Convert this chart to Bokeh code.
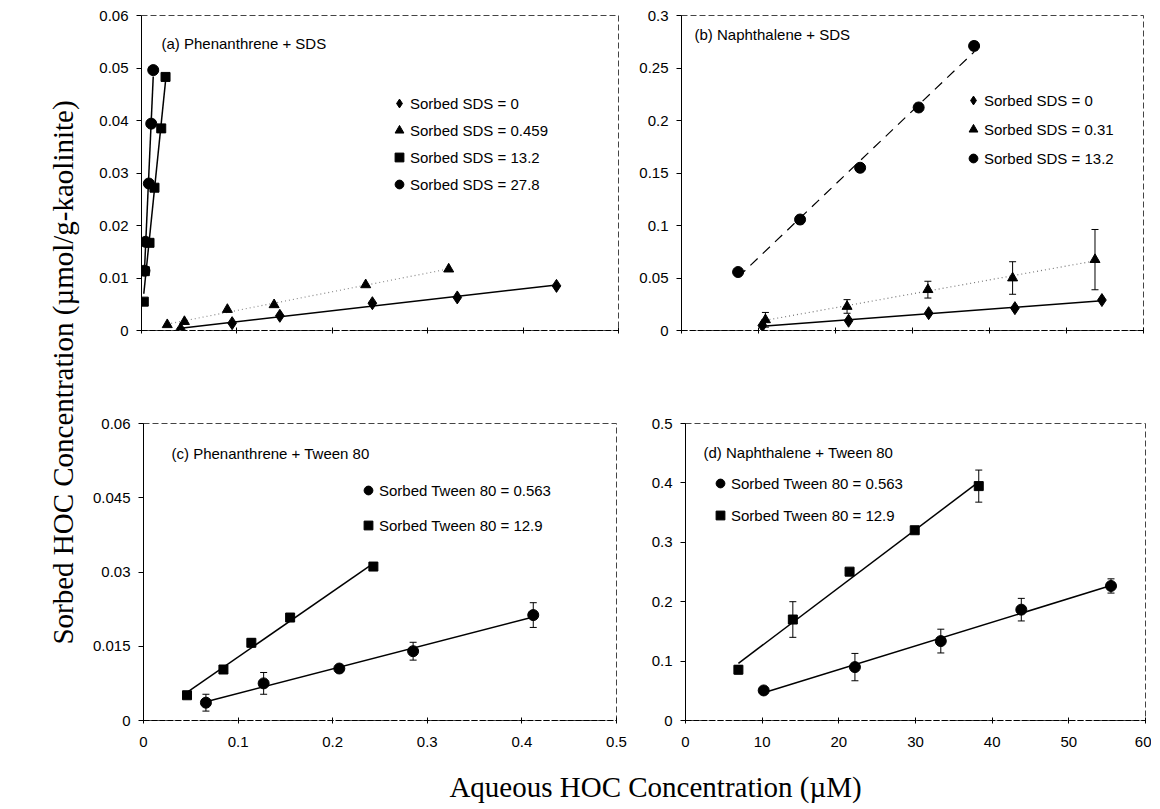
import numpy as np
from bokeh.plotting import figure
from bokeh.models import (Range1d, FixedTicker, Legend, LegendItem, Label,
                          Whisker, TeeHead, ColumnDataSource)
from bokeh.layouts import row, column
from bokeh.embed import file_html
from bokeh.resources import INLINE

# ---------------- data ----------------
# (a) Phenanthrene + SDS
a_sds0_x = [0.041, 0.095, 0.145, 0.242, 0.331, 0.435]
a_sds0_y = [0.0002, 0.0014, 0.0028, 0.0052, 0.0063, 0.0085]
a_sds0459_x = [0.027, 0.045, 0.090, 0.139, 0.235, 0.322]
a_sds0459_y = [0.0011, 0.0017, 0.0040, 0.0049, 0.0087, 0.0117]
a_sds132_x = [0.0024, 0.0035, 0.0084, 0.0136, 0.0207, 0.0252]
a_sds132_y = [0.0055, 0.0113, 0.0167, 0.0272, 0.0385, 0.0483]
a_sds278_x = [0.0031, 0.0042, 0.0077, 0.0102, 0.0123]
a_sds278_y = [0.0114, 0.0169, 0.0280, 0.0394, 0.0496]

# (b) Naphthalene + SDS
b_sds0_x = [10.5, 21.7, 32.1, 43.3, 54.6]
b_sds0_y = [0.0048, 0.0093, 0.0165, 0.0213, 0.029]
b_sds031_x = [10.9, 21.5, 32.0, 43.0, 53.7]
b_sds031_y = [0.0102, 0.0229, 0.0389, 0.050, 0.0675]
b_sds031_err = [0.007, 0.0065, 0.008, 0.0155, 0.0287]
b_sds132_x = [7.35, 15.4, 23.2, 30.8, 38.0]
b_sds132_y = [0.0557, 0.1057, 0.155, 0.2124, 0.271]
b_sds132_err = [0.0, 0.004, 0.0, 0.004, 0.004]

# (c) Phenanthrene + Tween 80
c_tw0563_x = [0.066, 0.127, 0.207, 0.285, 0.412]
c_tw0563_y = [0.0036, 0.0075, 0.0105, 0.014, 0.0213]
c_tw0563_err = [0.0017, 0.0022, 0.0005, 0.0018, 0.0025]
c_tw129_x = [0.046, 0.0845, 0.114, 0.155, 0.243]
c_tw129_y = [0.0051, 0.0103, 0.0157, 0.0208, 0.0311]
c_tw129_err = [0.0, 0.0008, 0.0008, 0.0005, 0.0]

# (d) Naphthalene + Tween 80
d_tw0563_x = [10.2, 22.1, 33.3, 43.8, 55.5]
d_tw0563_y = [0.0506, 0.0899, 0.1337, 0.1866, 0.2265]
d_tw0563_err = [0.0, 0.023, 0.02, 0.019, 0.012]
d_tw129_x = [6.9, 14.0, 21.4, 29.9, 38.25]
d_tw129_y = [0.0855, 0.170, 0.2506, 0.3203, 0.3946]
d_tw129_err = [0.007, 0.03, 0.005, 0.0, 0.027]

# tick values and labels
ticks_x_phen = [0, 0.1, 0.2, 0.3, 0.4, 0.5]
labels_x_phen = ["0", "0.1", "0.2", "0.3", "0.4", "0.5"]
ticks_x_naph = [0, 10, 20, 30, 40, 50, 60]
labels_x_naph = ["0", "10", "20", "30", "40", "50", "60"]
ticks_y_a = [0, 0.01, 0.02, 0.03, 0.04, 0.05, 0.06]
labels_y_a = ["0", "0.01", "0.02", "0.03", "0.04", "0.05", "0.06"]
ticks_y_b = [0, 0.05, 0.1, 0.15, 0.2, 0.25, 0.3]
labels_y_b = ["0", "0.05", "0.1", "0.15", "0.2", "0.25", "0.3"]
ticks_y_c = [0, 0.015, 0.03, 0.045, 0.06]
labels_y_c = ["0", "0.015", "0.03", "0.045", "0.06"]
ticks_y_d = [0, 0.1, 0.2, 0.3, 0.4, 0.5]
labels_y_d = ["0", "0.1", "0.2", "0.3", "0.4", "0.5"]

SANS = "Liberation Sans"
SERIF = "Liberation Serif"
FS = "15px"


def make_panel(title, title_xy, xr, yr, xticks, xlabels, yticks, ylabels,
               fw, fh, borders, series, legend_loc, legend_spacing):
    bl, br, bt, bb = borders
    p = figure(frame_width=fw, frame_height=fh,
               x_range=Range1d(*xr), y_range=Range1d(*yr),
               toolbar_location=None, output_backend="svg",
               min_border_left=bl, min_border_right=br,
               min_border_top=bt, min_border_bottom=bb)
    p.grid.visible = False
    p.outline_line_color = "#444444"
    p.outline_line_dash = "6 3"
    p.outline_line_width = 1
    p.background_fill_color = "white"
    p.border_fill_color = "white"

    p.xaxis.ticker = FixedTicker(ticks=xticks)
    p.xaxis.major_label_overrides = {t: l for t, l in zip(xticks, xlabels)}
    p.yaxis.ticker = FixedTicker(ticks=yticks)
    p.yaxis.major_label_overrides = {t: l for t, l in zip(yticks, ylabels)}
    for ax in (p.xaxis[0], p.yaxis[0]):
        ax.minor_tick_line_color = None
        ax.major_label_text_font = SANS
        ax.major_label_text_font_size = FS
        ax.major_label_text_color = "black"
        ax.axis_line_color = "black"
        ax.major_tick_line_color = "black"
    p.yaxis.major_tick_out = 5
    p.yaxis.major_tick_in = 0
    p.yaxis.major_label_standoff = 8
    p.xaxis.major_tick_out = 3
    p.xaxis.major_tick_in = 3
    p.xaxis.major_label_standoff = 13
    p.xaxis.axis_line_dash = "6 2"

    items = []
    for s in series:
        x = np.array(s["x"], dtype=float)
        y = np.array(s["y"], dtype=float)
        if s.get("line_dash") is not None:
            k, b = np.polyfit(x, y, 1)
            xs = np.array([x.min(), x.max()])
            p.line(xs, k * xs + b, line_color=s.get("line_color", "black"),
                   line_width=s.get("line_width", 1.5),
                   line_dash=s["line_dash"], line_alpha=s.get("line_alpha", 1.0))
        err = s.get("err")
        if err is not None:
            e = np.array(err, dtype=float)
            m = e > 0
            src = ColumnDataSource(dict(base=x[m], upper=(y + e)[m], lower=(y - e)[m]))
            w = Whisker(source=src, base="base", upper="upper", lower="lower",
                        dimension="height", line_color="black", line_width=1,
                        upper_head=TeeHead(size=7, line_color="black", line_width=1),
                        lower_head=TeeHead(size=7, line_color="black", line_width=1))
            p.add_layout(w)
        r = p.scatter(x, y, marker=s["marker"], size=s["size"],
                      fill_color="black", line_color="black")
        items.append(LegendItem(label=s["label"], renderers=[r]))

    leg = Legend(items=items, location=legend_loc, orientation="vertical",
                 glyph_width=22, glyph_height=22, label_height=22,
                 label_standoff=0, spacing=legend_spacing, padding=0, margin=0,
                 border_line_color=None, background_fill_alpha=0,
                 label_text_font=SANS, label_text_font_size=FS,
                 label_text_color="black")
    p.add_layout(leg, "center")

    p.add_layout(Label(x=title_xy[0], y=title_xy[1], x_units="screen",
                       y_units="screen", text=title, text_font=SANS,
                       text_font_size=FS, text_align="left",
                       text_baseline="middle", text_color="black"))
    return p


pa = make_panel(
    "(a) Phenanthrene + SDS", (20, 287), (0, 0.5), (0, 0.06),
    ticks_x_phen, [""] * len(ticks_x_phen), ticks_y_a, labels_y_a,
    477, 315, (53, 12, 15, 60),
    [
        dict(label="Sorbed SDS = 0", x=a_sds0_x, y=a_sds0_y, marker="diamond",
             size=13, line_dash="solid"),
        dict(label="Sorbed SDS = 0.459", x=a_sds0459_x, y=a_sds0459_y, marker="triangle",
             size=10, line_dash="1 3", line_color="#888888", line_width=1.2),
        dict(label="Sorbed SDS = 13.2", x=a_sds132_x, y=a_sds132_y, marker="square",
             size=9, line_dash="solid"),
        dict(label="Sorbed SDS = 27.8", x=a_sds278_x, y=a_sds278_y, marker="circle",
             size=11, line_dash="solid"),
    ],
    (247, 135), 5)

pb = make_panel(
    "(b) Naphthalene + SDS", (13, 296), (0, 60), (0, 0.3),
    ticks_x_naph, [""] * len(ticks_x_naph), ticks_y_b, labels_y_b,
    462, 315, (51, 8, 15, 60),
    [
        dict(label="Sorbed SDS = 0", x=b_sds0_x, y=b_sds0_y, marker="diamond",
             size=13, line_dash="solid"),
        dict(label="Sorbed SDS = 0.31", x=b_sds031_x, y=b_sds031_y, err=b_sds031_err,
             marker="triangle", size=10, line_dash="1 3", line_color="#777777",
             line_width=1.2),
        dict(label="Sorbed SDS = 13.2", x=b_sds132_x, y=b_sds132_y, err=b_sds132_err,
             marker="circle", size=11, line_dash="10 7", line_width=1.2),
    ],
    (281, 161), 7)

pc = make_panel(
    "(c) Phenanthrene + Tween 80", (28, 267), (0, 0.5), (0, 0.06),
    ticks_x_phen, labels_x_phen, ticks_y_c, labels_y_c,
    473, 297, (55, 14, 33, 37),
    [
        dict(label="Sorbed Tween 80 = 0.563", x=c_tw0563_x, y=c_tw0563_y, err=c_tw0563_err,
             marker="circle", size=11, line_dash="solid"),
        dict(label="Sorbed Tween 80 = 12.9", x=c_tw129_x, y=c_tw129_y, err=c_tw129_err,
             marker="square", size=9, line_dash="solid"),
    ],
    (214, 184), 13)

pd_ = make_panel(
    "(d) Naphthalene + Tween 80", (18, 268), (0, 60), (0, 0.5),
    ticks_x_naph, labels_x_naph, ticks_y_d, labels_y_d,
    460, 297, (55, 6, 33, 37),
    [
        dict(label="Sorbed Tween 80 = 0.563", x=d_tw0563_x, y=d_tw0563_y, err=d_tw0563_err,
             marker="circle", size=11, line_dash="solid"),
        dict(label="Sorbed Tween 80 = 12.9", x=d_tw129_x, y=d_tw129_y, err=d_tw129_err,
             marker="square", size=9, line_dash="solid"),
    ],
    (24, 194), 10)


def text_fig(w, h):
    f = figure(width=w, height=h, x_range=Range1d(0, 1), y_range=Range1d(0, 1),
               toolbar_location=None, output_backend="svg",
               x_axis_location=None, y_axis_location=None, min_border=0)
    f.grid.visible = False
    f.outline_line_color = None
    return f


ytitle = text_fig(88, 757)
ytitle.add_layout(Label(x=62, y=385, x_units="screen", y_units="screen",
                        text="Sorbed HOC Concentration (\u00b5mol/g-kaolinite)",
                        angle=np.pi / 2, text_align="center", text_baseline="middle",
                        text_font=SERIF, text_font_size="29px", text_color="black"))

xtitle = text_fig(1151, 51)
xtitle.add_layout(Label(x=655, y=22, x_units="screen", y_units="screen",
                        text="Aqueous HOC Concentration (\u00b5M)",
                        text_align="center", text_baseline="middle",
                        text_font=SERIF, text_font_size="29px", text_color="black"))

layout = column(row(ytitle, column(row(pa, pb), row(pc, pd_))), xtitle)

open("out.html", "w").write(file_html(layout, INLINE))
